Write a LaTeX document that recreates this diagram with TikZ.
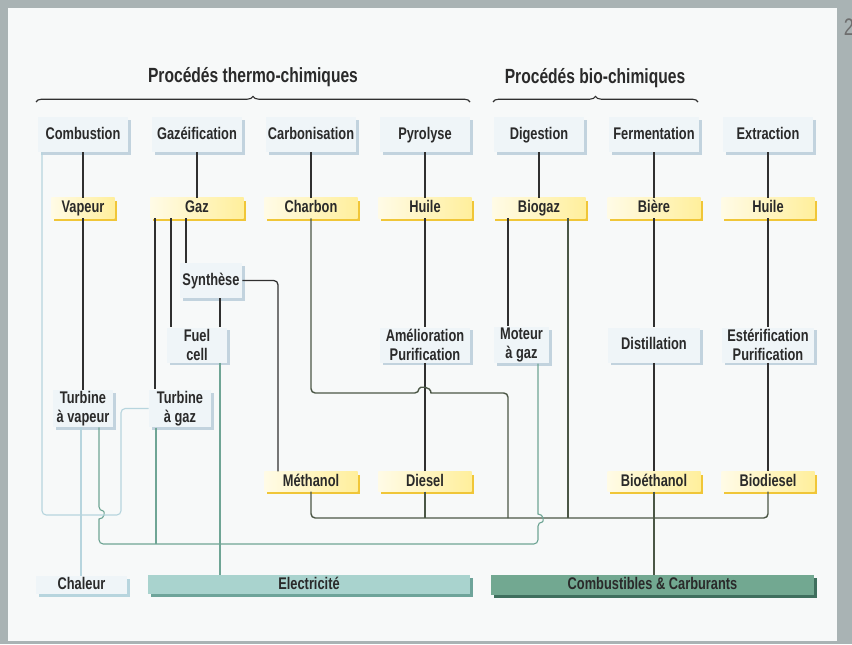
\documentclass[tikz,border=0pt]{standalone}
\usepackage{fontspec}
\setmainfont{Liberation Sans}[FakeStretch=0.76]
\usetikzlibrary{positioning, shadows, decorations.pathreplacing}
\definecolor{cFond}{HTML}{A9B3B4}
\definecolor{cPanneau}{HTML}{F7F9F9}
\definecolor{cTexte}{HTML}{2A2A2A}
\definecolor{cBoite}{HTML}{EFF5F8}
\definecolor{cBoiteOmbre}{HTML}{C2D3DE}
\definecolor{cJaune}{HTML}{FFEF9C}
\definecolor{cJauneOmbre}{HTML}{F0C638}
\definecolor{cTrait}{HTML}{303030}
\definecolor{cCarbu}{HTML}{4B5746}
\definecolor{cCourant}{HTML}{6FA595}
\definecolor{cChaleur}{HTML}{B7D5DE}
\definecolor{cElecFond}{HTML}{A9D3CE}
\definecolor{cElecOmbre}{HTML}{6EA49A}
\definecolor{cCombFond}{HTML}{72A891}
\definecolor{cCombOmbre}{HTML}{3F6F5E}
\newcommand{\etiq}{\fontsize{12}{13.4}\selectfont\bfseries}
\newcommand{\titre}{\fontsize{14.6}{17}\selectfont\bfseries}
\tikzset{
    procede/.style={rectangle, fill=cBoite, text=cTexte, font=\etiq, align=center,
        inner sep=1pt, minimum width=2.25cm, minimum height=0.875cm,
        drop shadow={shadow xshift=2.1pt, shadow yshift=-2.1pt, fill=cBoiteOmbre, opacity=1}},
    uneligne/.style={text height=1.6ex, text depth=.35ex},
    produit/.style={rectangle, left color=cJaune!25!white, right color=cJaune, text=cTexte,
        font=\etiq, inner sep=1pt, minimum width=2.325cm, minimum height=0.5cm, uneligne,
        drop shadow={shadow xshift=2.1pt, shadow yshift=-2.1pt, fill=cJauneOmbre, opacity=1}},
    barre/.style={rectangle, text=cTexte, font=\etiq, inner sep=1pt, uneligne},
    lien/.style={draw=cTrait, line width=0.9pt},
    carburant/.style={draw=cCarbu, line width=1pt},
    courant/.style={draw=cCourant, line width=0.8pt},
    chaleur/.style={draw=cChaleur, line width=0.8pt},
    accolade/.style={draw=cTrait, line width=0.8pt, decorate,
        decoration={brace, amplitude=4pt}}
}
\begin{document}
\begin{tikzpicture}[x=0.025cm, y=-0.025cm]
\useasboundingbox (0,0) rectangle (852,644);
\fill[cFond] (0,0) rectangle (852,644);
\fill[cPanneau] (8,8) rectangle (837,641);
\node[anchor=west, text=cTrait!70, font=\fontsize{17}{17}\selectfont] (page) at (839,27) {2};

\node[font=\titre, text=cTexte] (thermo) at (253,77) {Procédés thermo-chimiques};
\node[font=\titre, text=cTexte] (bio) at (595,78) {Procédés bio-chimiques};
\draw[accolade] (36,102) -- (470,102);
\draw[accolade] (493,102) -- (698,102);

\node[procede, uneligne] (comb) at (83,134.5) {Combustion};
\node[procede, uneligne] (gazef) at (197,134.5) {Gazéification};
\node[procede, uneligne] (carb) at (311,134.5) {Carbonisation};
\node[procede, uneligne] (pyro) at (425,134.5) {Pyrolyse};
\node[procede, uneligne] (dig) at (539,134.5) {Digestion};
\node[procede, uneligne] (ferm) at (654,134.5) {Fermentation};
\node[procede, uneligne] (extr) at (768,134.5) {Extraction};

\node[produit, minimum width=1.575cm] (vap) at (83,208) {Vapeur};
\node[produit] (gaz) at (197,208) {Gaz};
\node[produit] (charbon) at (311,208) {Charbon};
\node[produit] (huile) at (425,208) {Huile};
\node[produit] (biogaz) at (539,208) {Biogaz};
\node[produit] (biere) at (654,208) {Bière};
\node[produit] (huile2) at (768,208) {Huile};

\node[procede, uneligne, minimum width=1.55cm] (synth) at (211,280.5) {Synthèse};
\node[procede, minimum width=1.5cm] (pile) at (197,345) {Fuel\\cell};
\node[procede] (amelio) at (425,345) {Amélioration\\Purification};
\node[procede, minimum width=1.375cm] (moteur) at (521.5,345) {Moteur\\à gaz};
\node[procede, uneligne, minimum width=2.3cm] (distil) at (654,345) {Distillation};
\node[procede, minimum width=2.3cm] (ester) at (768,345) {Estérification\\Purification};
\node[procede, minimum width=1.5cm, minimum height=0.925cm] (tvap) at (83,408.5) {Turbine\\à vapeur};
\node[procede, minimum width=1.55cm, minimum height=0.925cm] (tgaz) at (180,408.5) {Turbine\\à gaz};

\node[produit, minimum height=0.4875cm] (meth) at (311,481.5) {Méthanol};
\node[produit, minimum height=0.4875cm] (diesel) at (425,481.5) {Diesel};
\node[produit, minimum height=0.4875cm] (bioeth) at (654,481.5) {Bioéthanol};
\node[produit, minimum height=0.4875cm] (biod) at (768,481.5) {Biodiesel};

\node[barre, fill=cBoite, minimum width=2.275cm, minimum height=0.4cm,
    drop shadow={shadow xshift=2.1pt, shadow yshift=-2.1pt, fill=cChaleur, opacity=1}]
    (chal) at (81.5,585) {Chaleur};
\node[barre, fill=cElecFond, minimum width=8.05cm, minimum height=0.475cm,
    drop shadow={shadow xshift=2.1pt, shadow yshift=-2.1pt, fill=cElecOmbre, opacity=1}]
    (electr) at (309,584.5) {Electricité};
\node[barre, fill=cCombFond, minimum width=8.075cm, minimum height=0.5cm,
    drop shadow={shadow xshift=2.1pt, shadow yshift=-2.1pt, fill=cCombOmbre, opacity=1}]
    (combcarb) at (652.5,585) {Combustibles \& Carburants};

\foreach \nom/\x in {xla/42, xlb/81, xea/99, xeb/156, xec/220, xga/155, xgb/171,
    xgc/186, xma/278, xcb/508, xbg/568, xmo/538}
    \coordinate (\nom) at (\x,0);
\coordinate (bus) at (0,518);
\coordinate (ebus) at (0,544);

\draw[lien] (comb) -- (vap) -- (tvap);
\draw[lien] (gazef) -- (gaz);
\draw[lien] (gaz.south -| xga) -- (xga |- tgaz.north);
\draw[lien] (gaz.south -| xgb) -- (xgb |- pile.north);
\draw[lien] (gaz.south -| xgc) -- (xgc |- synth.north);
\draw[lien, rounded corners=3pt] (synth.east) -| (xma |- meth.north);
\draw[lien] (synth.south -| xec) -- (xec |- pile.north);
\draw[lien] (carb) -- (charbon);
\draw[lien] (pyro) -- (huile) -- (amelio) -- (diesel);
\draw[lien] (dig) -- (biogaz);
\draw[lien] (biogaz.south -| xcb) -- (xcb |- moteur.north);
\draw[lien] (ferm) -- (biere) -- (distil) -- (bioeth);
\draw[lien] (extr) -- (huile2) -- (ester) -- (biod);

\draw[carburant, rounded corners=3pt] (charbon.south) -- (311,393) -- (419,393)
    [sharp corners] .. controls (419,386) and (431,386) .. (431,393)
    [rounded corners=3pt] -- (508,393) -- (xcb |- bus);
\draw[carburant, rounded corners=3pt] (meth.south) |- (bus -| biod.south) -- (biod.south);
\draw[carburant] (diesel.south) -- (diesel.south |- bus);
\draw[carburant] (biogaz.south -| xbg) -- (xbg |- bus);
\draw[carburant] (bioeth) -- (bioeth.south |- combcarb.north);

\draw[courant, rounded corners=3pt] (tvap.south -| xea) -- (99,511)
    [sharp corners] .. controls (105,511) and (105,519) .. (99,519)
    [rounded corners=3pt] -- (99,544) -- (538,544) -- (538,522)
    [sharp corners] .. controls (544,522) and (544,514) .. (538,514)
    -- (xmo |- moteur.south);
\draw[courant] (tgaz.south -| xeb) -- (xeb |- ebus);
\draw[courant] (pile.south -| xec) -- (xec |- electr.north);

\draw[chaleur, rounded corners=3pt] (comb.south -| xla) -- (42,515) -- (121,515)
    -- (121,408.5) -- (tgaz.west);
\draw[chaleur] (tvap.south -| xlb) -- (xlb |- chal.north);
\end{tikzpicture}
\end{document}
